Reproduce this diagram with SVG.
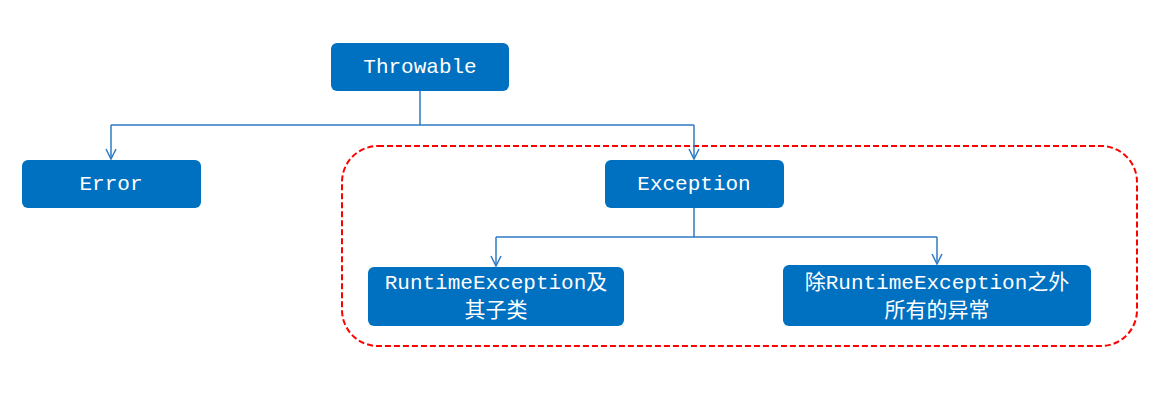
<svg xmlns="http://www.w3.org/2000/svg" width="1168" height="407" viewBox="0 0 1168 407">
<defs>
<style>
.node{fill:#0070C0;}
.t{fill:#FFFFFF;font-family:"Liberation Mono","Noto Sans CJK SC",monospace;font-size:21px;text-anchor:middle;dominant-baseline:central;}
.c{fill:none;stroke:#2E7BC4;stroke-width:1.5;}
</style>
<marker id="arr" viewBox="0 0 12 12" refX="11" refY="6" markerWidth="12" markerHeight="12" markerUnits="userSpaceOnUse" orient="auto">
<path d="M1,1 L11,6 L1,11" fill="none" stroke="#2E7BC4" stroke-width="1.5"/>
</marker>
</defs>
<rect width="1168" height="407" fill="#FFFFFF"/>
<rect id="group-box" x="342" y="146" width="795" height="200" rx="36" fill="none" stroke="#FF0000" stroke-width="2" stroke-dasharray="6,3"/>
<g id="connectors">
<path class="c" d="M420,91 V125 M111,125 H694" />
<path class="c" d="M111,125 V159" marker-end="url(#arr)"/>
<path class="c" d="M694,125 V159" marker-end="url(#arr)"/>
<path class="c" d="M694,208 V237 M496,237 H937"/>
<path class="c" d="M496,237 V266" marker-end="url(#arr)"/>
<path class="c" d="M937,237 V264" marker-end="url(#arr)"/>
</g>
<g id="throwable">
<rect class="node" x="331" y="43" width="178" height="48" rx="6"/>
<text class="t" x="420" y="67">Throwable</text>
</g>
<g id="error">
<rect class="node" x="22" y="160" width="179" height="48" rx="6"/>
<text class="t" x="111" y="184">Error</text>
</g>
<g id="exception">
<rect class="node" x="605" y="160" width="179" height="48" rx="6"/>
<text class="t" x="694" y="184">Exception</text>
</g>
<g id="runtime">
<rect class="node" x="368" y="267" width="256" height="59" rx="6"/>
<text class="t" x="496" y="283">RuntimeException及</text>
<text class="t" x="496" y="311">其子类</text>
</g>
<g id="other">
<rect class="node" x="783" y="265" width="308" height="61" rx="6"/>
<text class="t" x="937" y="283">除RuntimeException之外</text>
<text class="t" x="937" y="311">所有的异常</text>
</g>
</svg>
